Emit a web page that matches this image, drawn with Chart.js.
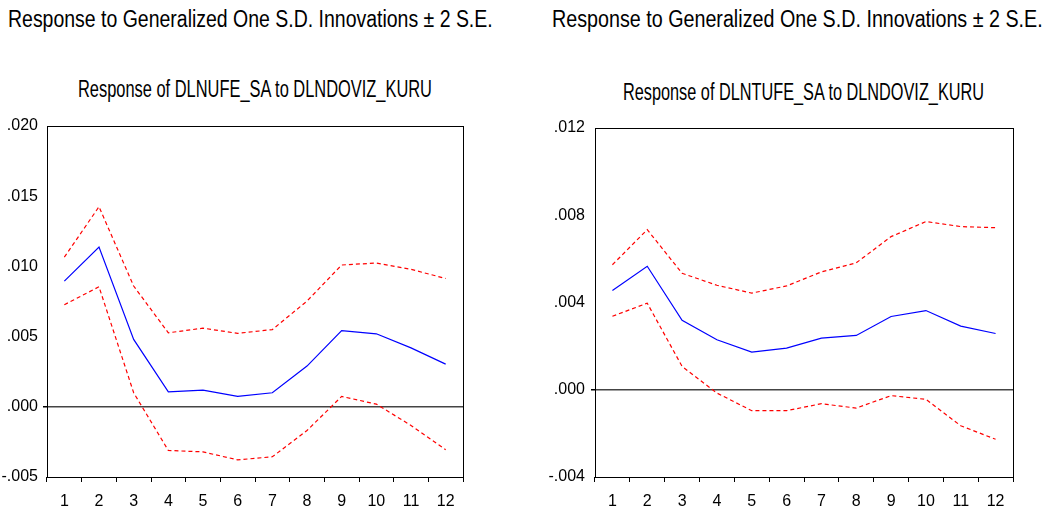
<!DOCTYPE html>
<html>
<head>
<meta charset="utf-8">
<script src="https://cdn.jsdelivr.net/npm/chart.js@4"></script>
<style>
  html, body { margin: 0; padding: 0; background: #fff; }
  body { width: 1047px; height: 513px; position: relative; overflow: hidden;
         font-family: 'Liberation Sans', Arial, sans-serif; color: #000; }
  .t { position: absolute; white-space: nowrap; line-height: 1; font-size: 23px; transform-origin: 0 0; }
  canvas { position: absolute; top: 0; }
</style>
</head>
<body>
<div class="t" data-w="485" style="top:8px;left:8px">Response to Generalized One S.D. Innovations ± 2 S.E.</div>
<div class="t" data-w="491" style="top:8px;left:552px">Response to Generalized One S.D. Innovations ± 2 S.E.</div>
<div class="t" data-w="354" style="top:78px;left:78px">Response of DLNUFE_SA to DLNDOVIZ_KURU</div>
<div class="t" data-w="361" style="top:81px;left:623px">Response of DLNTUFE_SA to DLNDOVIZ_KURU</div>
<div style="position:absolute;left:0;top:0;width:520px;height:513px"><canvas id="c1"></canvas></div>
<div style="position:absolute;left:520px;top:0;width:527px;height:513px"><canvas id="c2"></canvas></div>
<script>
const periods = ['1','2','3','4','5','6','7','8','9','10','11','12'];

// Response of DLNUFE_SA to DLNDOVIZ_KURU
const ufeResp  = [0.00895, 0.01138, 0.0048, 0.00107, 0.00119, 0.00074, 0.0010, 0.0029, 0.00542, 0.0052, 0.0042, 0.00304];
const ufeUpper = [0.01066, 0.01425, 0.0086, 0.00527, 0.0056, 0.00523, 0.0055, 0.00753, 0.0101, 0.01024, 0.00979, 0.00914];
const ufeLower = [0.00727, 0.00855, 0.0010, -0.00311, -0.00321, -0.00378, -0.00356, -0.00169, 0.00074, 0.00019, -0.00133, -0.00306];

// Response of DLNTUFE_SA to DLNDOVIZ_KURU
const tufeResp  = [0.00455, 0.00566, 0.00318, 0.00229, 0.00173, 0.00191, 0.00237, 0.00249, 0.00336, 0.00363, 0.00292, 0.00258];
const tufeUpper = [0.00573, 0.00734, 0.00534, 0.00479, 0.00443, 0.00476, 0.0054, 0.00582, 0.00702, 0.00771, 0.00748, 0.00743];
const tufeLower = [0.00337, 0.00397, 0.00107, -0.00015, -0.00096, -0.00096, -0.00064, -0.00084, -0.00027, -0.00044, -0.00165, -0.00227];

const FONT = "'Liberation Sans', Arial, sans-serif";

// titles are narrow in the original, squeeze them to the measured width
document.querySelectorAll('.t').forEach(el => {
  const w = +el.dataset.w;
  el.style.transform = 'scaleX(' + (w / el.offsetWidth) + ')';
});

const frame = {
  id: 'frame',
  afterDraw(chart) {
    const a = chart.chartArea, c = chart.ctx;
    c.save();
    c.strokeStyle = '#000';
    c.lineWidth = 1;
    c.strokeRect(Math.round(a.left) + 0.5, Math.round(a.top) + 0.5,
                 Math.round(a.right - a.left), Math.round(a.bottom - a.top));
    c.restore();
  }
};

function fmt(v) {
  const s = Math.abs(v).toFixed(3).replace(/^0/, '');
  return v < 0 ? '-' + s : s;
}

function makeChart(id, resp, upper, lower, ymin, ymax, step, pad, yw, ypad) {
  const band = (d) => ({
    data: d, borderColor: '#ff0000', borderWidth: 1.2, borderDash: [4, 3],
    pointRadius: 0, fill: false, tension: 0
  });
  return new Chart(document.getElementById(id), {
    type: 'line',
    data: {
      labels: periods,
      datasets: [
        band(upper),
        band(lower),
        { data: resp, borderColor: '#0000ff', borderWidth: 1.2, pointRadius: 0, fill: false, tension: 0 }
      ]
    },
    options: {
      responsive: true,
      maintainAspectRatio: false,
      animation: false,
      layout: { padding: pad },
      plugins: { legend: { display: false }, tooltip: { enabled: false } },
      scales: {
        x: {
          type: 'category',
          offset: true,
          grid: { offset: true, drawOnChartArea: false, tickLength: 5, tickColor: '#000' },
          border: { display: false },
          ticks: { color: '#000', font: { family: FONT, size: 16 }, padding: 10, maxRotation: 0, autoSkip: false },
          afterFit(s) { s.height = 36; }
        },
        y: {
          min: ymin, max: ymax,
          grid: {
            color: (ctx) => ctx.tick && ctx.tick.value === 0 ? '#444' : 'rgba(0,0,0,0)',
            lineWidth: (ctx) => ctx.tick && ctx.tick.value === 0 ? 1.5 : 0,
            tickLength: 4, tickColor: '#000'
          },
          border: { display: false },
          ticks: { stepSize: step, color: '#000', font: { family: FONT, size: 16 }, padding: ypad,
                   callback: (v) => fmt(v) },
          afterFit(s) { s.width = yw; }
        }
      }
    },
    plugins: [frame]
  });
}

makeChart('c1', ufeResp, ufeUpper, ufeLower, -0.005, 0.020, 0.005,
  { left: 0, top: 126, right: 57, bottom: 0 }, 47, 5);
makeChart('c2', tufeResp, tufeUpper, tufeLower, -0.004, 0.012, 0.004,
  { left: 0, top: 128, right: 34, bottom: 0 }, 75, 6);
</script>
</body>
</html>
